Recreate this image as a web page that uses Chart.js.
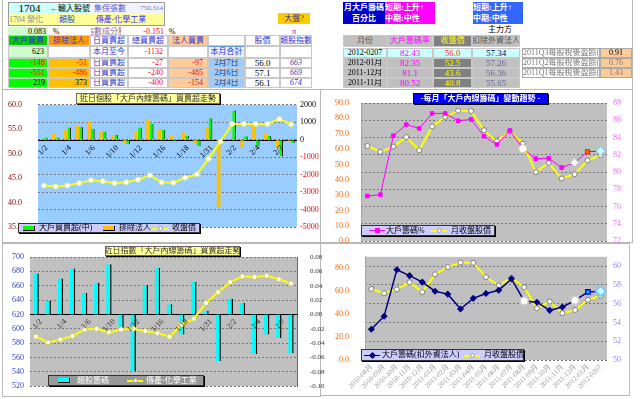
<!DOCTYPE html>
<html>
<head>
<meta charset="utf-8">
<script src="https://cdn.jsdelivr.net/npm/chart.js@4.4.1/dist/chart.umd.min.js"></script>
<style>
  html, body { margin: 0; padding: 0; background: #fff; }
  body { width: 640px; height: 399px; position: relative; overflow: hidden;
         font-family: 'Liberation Serif', 'Noto Sans CJK TC', serif; }
  .c { position: absolute; box-sizing: border-box; font-size: 8px; line-height: 1;
       display: flex; align-items: center; justify-content: center; white-space: pre;
       overflow: hidden; text-align: center; }
  .frame { position: absolute; box-sizing: border-box; border: 1px solid #b8b8b8; }
  .wrap { position: absolute; overflow: hidden; }
  canvas { position: absolute; left: 0; top: 0; }
  .lg { position: absolute; box-sizing: border-box; border: 1px solid #333; box-shadow: 1px 1px 0 #000; }
  .lg span { position: absolute; top: 0; font-size: 8px; white-space: nowrap; }
  .lg i { position: absolute; display: block; box-sizing: border-box; }
</style>
</head>
<body>
<div class="frame" style="left:2px;top:-2px;width:631px;height:92px;"></div>
<div class="frame" style="left:2px;top:89px;width:319px;height:154px;"></div>
<div class="frame" style="left:320px;top:89px;width:313px;height:154px;"></div>
<div class="frame" style="left:2px;top:243px;width:319px;height:154px;"></div>
<div class="frame" style="left:320px;top:243px;width:310px;height:153px;"></div>

<div class="wrap" style="left:0;top:92px;width:326px;height:148px;"><canvas id="c1" width="326" height="148"></canvas></div>
<div class="wrap" style="left:322px;top:92px;width:318px;height:151px;"><canvas id="c2" width="318" height="160"></canvas></div>
<div class="wrap" style="left:0;top:242px;width:326px;height:155px;"><canvas id="c3" width="326" height="155"></canvas></div>
<div class="wrap" style="left:322px;top:244px;width:318px;height:152px;"><canvas id="c4" width="318" height="152"></canvas></div>

<script>
// ---- daily data (Jan/Feb 2012) ----
const dayLabels = ['12/30', '1/2', '1/3', '1/4', '1/5', '1/6', '1/9', '1/10', '1/11', '1/12', '1/13',
  '1/16', '1/17', '1/18', '1/19', '1/31', '2/1', '2/2', '2/3', '2/4', '2/6', '2/7'];
const bigHolderDaily = [125, 125, 700, 750, 625, 480, 270, -250, 700, 910, 560, -100, 230, -360,
  1230, -30, 1680, 200, -375, 219, -950, -190];
const exInstDaily = [50, 340, 550, 785, 1050, 450, 250, -230, 480, 1180, 600, 250, 410, -230,
  700, -3900, 0, -430, 880, 373, -486, -51];
const stockClose = [43.5, 43.3, 43.5, 44.0, 44.6, 44.4, 44.0, 44.2, 44.7, 45.6, 44.2, 44.1, 45.1,
  45.8, 49.0, 52.5, 56.1, 56.1, 56.1, 56.1, 57.1, 56.0];
const sectorChips = [0.057, 0.019, 0.050, 0.064, 0.030, 0.044, 0.070, -0.019, -0.079, 0.041, 0.065,
  0.014, -0.028, 0.045, 0.005, -0.065, 0.022, 0.016, -0.055, -0.028, -0.033, -0.054];
const sectorIndex = [589, 581, 585, 590, 599, 600, 595, 599, 600, 597, 594, 589, 606, 614, 636,
  651, 665, 673, 672, 674, 669, 663];

// ---- monthly data ----
const months = ['2010-08月', '2010-09月', '2010-10月', '2010-11月', '2010-12月', '2011-01月',
  '2011-02月', '2011-03月', '2011-04月', '2011-05月', '2011-06月', '2011-07月', '2011-08月',
  '2011-09月', '2011-10月', '2011-11月', '2011-12月', '2012-01月', '2012-0207'];
const bigHolderPct = [77.24, 77.39, 84.21, 85.5, 85.05, 86.79, 86.79, 85.95, 86.1, 84.14, 83.19,
  84.82, 82.7, 81.56, 81.6, 80.52, 81.1, 82.35, 82.43];
const monthClose = [62.0, 58.2, 61.6, 67.8, 59.2, 74.7, 81.0, 85.0, 84.8, 72.3, 65.0, 71.6, 63.5,
  45.0, 51.0, 40.8, 43.6, 52.5, 56.0];
const bigHolderExForeign = [53.28, 54.67, 59.62, 58.99, 58.30, 57.33, 57.02, 55.43, 56.57, 57.09,
  57.44, 58.65, 56.29, 56.16, 55.29, 55.65, 56.36, 57.26, 57.34];

// ---- table values ----
const tblDates = ['2月7日', '2月6日', '2月4日'];
const tblBig = ['-148', '-551', '219'];
const tblExInst = ['-51', '-486', '373'];
const tblNet = ['-27', '-240', '-400'];
const tblInst = ['-97', '-485', '-154'];
const tblPrice = ['56.0', '57.1', '56.1'];
const tblSector = ['663', '669', '674'];
const mthRows = ['2012-0207', '2012-01月', '2011-12月', '2011-11月'];
const mthPct = ['82.43', '82.35', '81.1', '80.52'];
const mthClose = ['56.0', '52.5', '43.6', '40.8'];
const mthExForeign = ['57.34', '57.26', '56.36', '55.65'];
const epsLabels = ['2011Q3每股稅後盈餘(元)', '2011Q2每股稅後盈餘(元)', '2011Q1每股稅後盈餘(元)'];
const epsValues = ['0.91', '0.76', '1.43'];

const G = 'border:1px solid #c8c8c8;';
function cell(x, y, w, h, text, st) {
  const d = document.createElement('div');
  d.className = 'c';
  d.style.cssText = `left:${x}px;top:${y}px;width:${w}px;height:${h}px;` + (st || '');
  d.textContent = text;
  document.body.appendChild(d);
  return d;
}

// ---- top-left block ----
cell(8, 2, 157, 24, '', 'border:1px solid #999;');
cell(9, 3, 41, 11, '1704', 'background:#ccffff;font-size:11px;');
cell(50, 3, 40, 11, '←輸入股號', 'background:#ccffff;');
cell(90, 3, 74, 11, '', 'background:#f2f2ff;');
cell(92, 3, 36, 11, '集保張數', 'color:#5a5acc;');
cell(130, 3, 33, 11, '750,314', 'font-size:7px;color:#7777aa;justify-content:flex-end;');
cell(9, 14, 155, 11, '', 'background:#ffff99;');
cell(9, 14, 38, 11, '1704 榮化', 'color:#888;justify-content:flex-start;');
cell(55, 14, 24, 11, '類股', 'color:#3333ff;');
cell(91, 14, 60, 11, '傳產-化學工業', 'color:#3333ff;');
cell(278, 13, 32, 11, '大盤?', 'background:#ffcc00;color:#333399;');

cell(8, 27, 40, 9, '0.083', 'background:#ccffcc;justify-content:flex-end;padding-right:2px;');
cell(50, 27, 12, 9, '%');
cell(91, 27, 30, 9, '指數成分股', 'color:#886699;');
cell(140, 27, 24, 9, '-0.151', 'color:#ff0000;justify-content:flex-end;');
cell(167, 27, 10, 9, '%');
cell(290, 27, 8, 9, 'π', 'color:#333399;');

const colX = [8, 48, 90, 128, 168, 208, 245, 280, 312];
const heads = ['大戶買賣', '排除法人', '日買賣超', '總買賣超', '法人買賣', '', '股價', '類股指數'];
const headBg = ['#00cc00', '#ff9900', '#fff', '#fff', '#ffcc99', '#fff', '#fff', '#fff'];
heads.forEach((t, i) => cell(colX[i], 35, colX[i + 1] - colX[i], 11, t,
  G + `background:${headBg[i]};color:#3333cc;`));
cell(8, 46, 40, 12, '623', G + 'background:#ccffcc;justify-content:flex-end;padding-right:3px;');
cell(48, 46, 42, 12, '', G);
cell(90, 46, 38, 12, '本月至今', G + 'color:#3333cc;');
cell(128, 46, 40, 12, '-1132', G + 'color:#ff0000;justify-content:flex-end;padding-right:4px;');
cell(168, 46, 40, 12, '', G);
cell(208, 46, 37, 12, '本月合計', G + 'color:#3333cc;background:#e6f0ff;border-top:1px solid #6699cc;');
cell(245, 46, 35, 12, '', G);
cell(280, 46, 32, 12, '', G);
tblDates.forEach((d, r) => {
  const y = 58 + r * 10;
  const neg = (v) => (v.startsWith('-') ? '#ff0000' : '#000');
  cell(8, y, 40, 10, tblBig[r], G + `background:#00ff00;color:${neg(tblBig[r])};justify-content:flex-end;padding-right:2px;`);
  cell(48, y, 42, 10, tblExInst[r], G + `background:#ffc000;color:${neg(tblExInst[r])};justify-content:flex-end;padding-right:2px;`);
  cell(90, y, 38, 10, '日買賣超', G + 'color:#3333cc;');
  cell(128, y, 40, 10, tblNet[r], G + 'color:#ff0000;justify-content:flex-end;padding-right:4px;');
  cell(168, y, 40, 10, tblInst[r], G + 'background:#ffcc99;color:#ff0000;justify-content:flex-end;padding-right:4px;');
  cell(208, y, 37, 10, d, G + 'background:#99ccff;color:#333366;');
  cell(245, y, 35, 10, tblPrice[r], G + 'font-size:9px;');
  cell(280, y, 32, 10, tblSector[r], G + 'color:#3333cc;font-style:italic;');
});

// ---- top-right block ----
cell(343, 2, 42, 22, '月大戶籌碼\n百分比', 'background:#0000cc;color:#fff;font-weight:bold;line-height:11px;');
cell(385, 2, 50, 22, '短期:上升↑\n中期:中性', 'background:#ff00ff;color:#fff;font-weight:bold;line-height:11px;text-align:left;justify-content:flex-start;');
cell(473, 2, 50, 22, '短期:上升↑\n中期:中性', 'background:#3366ff;color:#fff;font-weight:bold;line-height:11px;text-align:left;justify-content:flex-start;');
cell(485, 25, 30, 9, '主力方');
cell(343, 35, 44, 12, '月份', G + 'background:#c0c0c0;color:#555;');
cell(387, 35, 46, 12, '大戶籌碼率', G + 'background:#c0c0c0;color:#ff00ff;');
cell(433, 35, 39, 12, '收盤價', G + 'background:#808080;color:#ffff00;');
cell(472, 35, 48, 12, '扣除外資法人', G + 'background:#c0c0c0;color:#555;');
mthRows.forEach((m, r) => {
  const y = 48 + r * 10;
  const first = r === 0;
  const bg = first ? '#ccffff' : '#c0c0c0';
  cell(343, y, 44, 10, m, G + `background:${bg};color:#000;`);
  cell(387, y, 46, 10, mthPct[r], G + `background:${bg};color:#ff00ff;font-size:9px;`);
  cell(433, y, 39, 10, mthClose[r], G + `background:${first ? '#ccffff' : '#808080'};color:${first ? '#ff3300' : '#ffff00'};font-size:9px;`);
  cell(472, y, 48, 10, mthExForeign[r], G + `background:${bg};color:${first ? '#000080' : '#666699'};font-size:9px;`);
});
epsLabels.forEach((t, r) => {
  const y = 48 + r * 10;
  cell(522, y, 78, 10, t, 'border:1px solid #aaa;color:#777;justify-content:flex-start;');
  cell(600, y, 32, 10, epsValues[r], `border:1px solid #aaa;background:#ffcc99;color:${r === 0 ? '#000' : '#777'};`);
});

// ---- chart titles & legends ----
cell(76, 93, 144, 11, '近日個股「大戶內線籌碼」買賣超走勢', 'background:#ffff99;border:1px solid #666;box-shadow:1px 1px 0 #000;color:#333;');
cell(413, 93, 135, 11, '-每月「大戶內線籌碼」變動趨勢 -', 'background:#0000ff;border:1px solid #000;box-shadow:1px 1px 0 #000;color:#fff;font-weight:bold;');
cell(105, 246, 135, 10, '近日指數「大戶內線籌碼」買賣超走勢', 'background:#ffff99;border:1px solid #666;box-shadow:1px 1px 0 #000;color:#333;');

function legend(x, y, w, h, bg, color, items) {
  const d = document.createElement('div');
  d.className = 'lg';
  d.style.cssText = `left:${x}px;top:${y}px;width:${w}px;height:${h}px;background:${bg};color:${color};`;
  items.forEach((it) => {
    if (it.box) {
      const b = document.createElement('i');
      b.style.cssText = `left:${it.at}px;top:${Math.floor(h / 2) - 3}px;width:12px;height:5px;background:${it.box};border-right:1px solid #000;border-bottom:1px solid #000;`;
      d.appendChild(b);
    } else {
      const l = document.createElement('i');
      l.style.cssText = `left:${it.at}px;top:${Math.floor(h / 2) - 1}px;width:16px;height:${it.lw}px;background:${it.line};`;
      d.appendChild(l);
      const m = document.createElement('i');
      m.style.cssText = `left:${it.at + 6}px;top:${Math.floor(h / 2) - 3}px;width:5px;height:5px;background:${it.mark};` +
        (it.round ? 'border-radius:50%;border:1px solid #999;' : '') + (it.rot ? 'transform:rotate(45deg);' : '');
      d.appendChild(m);
    }
    const s = document.createElement('span');
    s.style.left = it.tx + 'px';
    s.style.lineHeight = (h - 2) + 'px';
    s.textContent = it.text;
    d.appendChild(s);
  });
  document.body.appendChild(d);
}
legend(18, 223, 182, 10, '#ccccff', '#000', [
  { box: '#00ff00', at: 4, text: '大戶買賣超(中)', tx: 20 },
  { box: '#ffc000', at: 84, text: '排除法人', tx: 100 },
  { line: '#ffff00', lw: 2, mark: '#fff', round: true, at: 133, text: '收盤價', tx: 153 },
]);
legend(361, 225, 134, 11, '#ccccff', '#000', [
  { line: '#ff00ff', lw: 1, mark: '#ff00ff', at: 7, text: '大戶籌碼%', tx: 24 },
  { line: '#ffff00', lw: 2, mark: '#fff', round: true, at: 69, text: '月收盤股價', tx: 89 },
]);
legend(48, 375, 156, 11, '#999999', '#fff', [
  { box: '#00ffff', at: 9, text: '類股籌碼', tx: 28 },
  { line: '#ffff00', lw: 2, mark: '#fff', round: true, at: 78, text: '傳產-化學工業', tx: 97 },
]);
legend(361, 349, 163, 12, '#ccccff', '#000', [
  { line: '#000080', lw: 1, mark: '#000080', rot: true, at: 2, text: '大戶籌碼(扣外資法人)', tx: 20 },
  { line: '#ffff00', lw: 2, mark: '#fff', round: true, at: 102, text: '月收盤股價', tx: 122 },
]);

// ---- Chart.js ----
Chart.defaults.font.family = "'Liberation Serif','Noto Sans CJK TC',serif";
Chart.defaults.font.size = 8;
Chart.defaults.color = '#000';
Chart.defaults.animation = false;
Chart.defaults.responsive = false;
Chart.defaults.plugins.legend.display = false;
Chart.defaults.plugins.tooltip.enabled = false;

const plotBg = {
  id: 'plotBg',
  beforeDraw(chart, args, o) {
    const { ctx, chartArea: a } = chart;
    ctx.save();
    ctx.fillStyle = o.color;
    ctx.fillRect(a.left, a.top, a.right - a.left, a.bottom - a.top);
    ctx.restore();
  },
};

// category axis that crosses at value 0 of the bar scale, labels every other day
const zeroAxis = {
  id: 'zeroAxis',
  beforeDatasetsDraw(chart, args, o) {
    if (!o.scale) { return; }
    const { ctx, chartArea: a } = chart;
    const y = Math.round(chart.scales[o.scale].getPixelForValue(0)) + 0.5;
    ctx.save();
    ctx.strokeStyle = '#000';
    ctx.lineWidth = 1;
    ctx.beginPath();
    ctx.moveTo(a.left, y);
    ctx.lineTo(a.right, y);
    ctx.stroke();
    ctx.restore();
  },
  afterDatasetsDraw(chart, args, o) {
    if (!o.scale) { return; }
    const { ctx } = chart;
    const y = chart.scales[o.scale].getPixelForValue(0);
    const xs = chart.scales.x;
    ctx.save();
    ctx.font = `8px ${Chart.defaults.font.family}`;
    ctx.fillStyle = o.color;
    ctx.textAlign = 'right';
    ctx.textBaseline = 'middle';
    chart.data.labels.forEach((lb, i) => {
      if (i % 2 === 0) { return; }
      ctx.save();
      ctx.translate(xs.getPixelForValue(i) + o.dx, y + o.dy);
      ctx.rotate(-Math.PI / 4);
      ctx.fillText(lb, 0, 0);
      ctx.restore();
    });
    ctx.restore();
  },
};
Chart.register(plotBg, zeroAxis);

const fixW = (w) => (s) => { s.width = w; };
const dash = { display: false, dash: [2, 2] };
const perPoint = (n, def, over) => Array.from({ length: n }, (_, i) => (i in over ? over[i] : def));
const yellowLine = {
  borderColor: '#ffff00', borderWidth: 2, pointRadius: 2.5, pointBackgroundColor: '#fff',
  pointBorderColor: '#666', pointBorderWidth: 0.8, tension: 0,
};

// 1. daily stock chips
new Chart(document.getElementById('c1'), {
  type: 'bar',
  data: {
    labels: dayLabels,
    datasets: [
      { type: 'line', label: '收盤價', data: stockClose, yAxisID: 'y', order: 0,
        ...yellowLine, pointBorderColor: '#eeee66' },
      { label: '排除法人', data: exInstDaily, yAxisID: 'y1', order: 1,
        backgroundColor: '#ffc000', categoryPercentage: 0.62, barPercentage: 1 },
      { label: '大戶買賣超(中)', data: bigHolderDaily, yAxisID: 'y1', order: 1,
        backgroundColor: '#00ff00', borderColor: '#000', borderWidth: { right: 1, bottom: 0, top: 0, left: 0 },
        borderSkipped: false, categoryPercentage: 0.62, barPercentage: 1 },
    ],
  },
  options: {
    layout: { padding: { top: 12, bottom: 4, left: 0, right: 0 } },
    plugins: {
      plotBg: { color: '#99ccff' },
      zeroAxis: { scale: 'y1', color: '#000', dx: -9, dy: 7 },
    },
    scales: {
      x: { display: false },
      y: {
        position: 'left', min: 35, max: 60,
        ticks: { stepSize: 5, color: '#800000', padding: 8, callback: (v) => v.toFixed(1) },
        grid: { display: false }, border: { display: false }, afterFit: fixW(38),
      },
      y1: {
        position: 'right', min: -5000, max: 2000,
        ticks: { stepSize: 1000, padding: 3, callback: (v) => String(v),
          color: (c) => (c.tick.value < 0 ? '#ff0000' : '#000') },
        grid: { color: '#777', drawTicks: false }, border: dash, afterFit: fixW(29),
      },
    },
  },
});

// 2. monthly big-holder percentage
new Chart(document.getElementById('c2'), {
  type: 'line',
  data: {
    labels: months,
    datasets: [
      { label: '大戶籌碼%', data: bigHolderPct, yAxisID: 'y1', borderColor: '#ff00ff', borderWidth: 1,
        pointStyle: perPoint(19, 'rect', { 12: 'circle', 16: 'rectRot', 18: 'rectRot' }),
        pointRadius: perPoint(19, 2.5, { 12: 4, 16: 4, 17: 3, 18: 4.5 }),
        pointBackgroundColor: perPoint(19, '#ff00ff', { 12: '#fff', 16: '#fff', 17: '#ff6600', 18: '#ccffff' }),
        pointBorderColor: perPoint(19, '#ff00ff', { 12: '#ccc', 16: '#ccc', 17: '#cc3300', 18: '#66ccff' }),
        segment: { borderColor: (c) => (c.p1DataIndex === 18 ? '#ff0000' : undefined) }, tension: 0 },
      { label: '月收盤股價', data: monthClose, yAxisID: 'y', ...yellowLine },
    ],
  },
  options: {
    layout: { padding: { top: 11, bottom: 9, left: 0, right: 0 } },
    plugins: { plotBg: { color: '#c0c0c0' } },
    scales: {
      x: { display: false, offset: true },
      y: {
        position: 'left', min: 0, max: 90,
        ticks: { stepSize: 10, color: '#ff6600', padding: 4, callback: (v) => v.toFixed(1) },
        grid: { display: false }, border: { color: '#ff9900' }, afterFit: fixW(39),
      },
      y1: {
        position: 'right', min: 72, max: 88,
        ticks: { stepSize: 2, color: '#ff66ff', padding: 6 },
        grid: { color: '#777', drawTicks: false }, border: dash, afterFit: fixW(33),
      },
    },
  },
});

// 3. daily sector chips
new Chart(document.getElementById('c3'), {
  type: 'bar',
  data: {
    labels: dayLabels,
    datasets: [
      { type: 'line', label: '傳產-化學工業', data: sectorIndex, yAxisID: 'y', order: 0,
        ...yellowLine, pointBorderColor: '#cccc33' },
      { label: '類股籌碼', data: sectorChips, yAxisID: 'y1', order: 1,
        backgroundColor: '#00ffff', borderColor: '#000', borderWidth: { right: 1.5, bottom: 0, top: 0, left: 0 },
        borderSkipped: false, categoryPercentage: 1, barPercentage: 0.45 },
    ],
  },
  options: {
    layout: { padding: { top: 15, bottom: 10, left: 0, right: 0 } },
    plugins: {
      plotBg: { color: '#c0c0c0' },
      zeroAxis: { scale: 'y1', color: '#333', dx: -7, dy: 6 },
    },
    scales: {
      x: { display: false },
      y: {
        position: 'left', min: 520, max: 700,
        ticks: { stepSize: 20, color: '#3344cc', padding: 6 },
        grid: { color: '#777', drawTicks: false }, border: dash, afterFit: fixW(30),
      },
      y1: {
        position: 'right', min: -0.1, max: 0.08,
        ticks: { stepSize: 0.02, color: '#333', padding: 5, font: { size: 7 }, callback: (v) => v.toFixed(2) },
        grid: { display: false }, border: { color: '#666' }, afterFit: fixW(29),
      },
    },
  },
});

// 4. monthly big-holder excluding foreign/institutional
new Chart(document.getElementById('c4'), {
  type: 'line',
  data: {
    labels: months,
    datasets: [
      { label: '大戶籌碼(扣外資法人)', data: bigHolderExForeign, yAxisID: 'y1', borderColor: '#000080',
        borderWidth: 1.5,
        pointStyle: perPoint(19, 'rectRot', { 12: 'circle', 16: 'circle', 17: 'rect' }),
        pointRadius: perPoint(19, 2.5, { 12: 4, 16: 4, 17: 3, 18: 5 }),
        pointBackgroundColor: perPoint(19, '#000080', { 12: '#fff', 16: '#fff', 17: '#00cccc', 18: '#ccffff' }),
        pointBorderColor: perPoint(19, '#000080', { 12: '#ccc', 16: '#ccc', 17: '#0000ff', 18: '#66ccff' }),
        segment: { borderColor: (c) => (c.p1DataIndex === 18 ? '#0000ff' : undefined) }, tension: 0 },
      { label: '月收盤股價', data: monthClose, yAxisID: 'y', ...yellowLine },
    ],
  },
  options: {
    layout: { padding: { top: 10, bottom: 0, left: 0, right: 0 } },
    plugins: { plotBg: { color: '#c0c0c0' } },
    scales: {
      x: {
        offset: true, grid: { display: false, drawTicks: false }, border: { display: false },
        ticks: { autoSkip: false, minRotation: 45, maxRotation: 45, color: '#999', padding: 3, font: { size: 7 } },
        afterFit: (s) => { s.height = 36; },
      },
      y: {
        position: 'left', min: 0, max: 90,
        ticks: { stepSize: 10, color: '#ff6600', padding: 8, callback: (v) => v.toFixed(1) },
        grid: { display: false }, border: { color: '#ff9900' }, afterFit: fixW(43),
      },
      y1: {
        position: 'right', min: 50, max: 61,
        ticks: { stepSize: 1, color: '#8888ff', padding: 6 },
        grid: { color: '#777', drawTicks: false }, border: dash, afterFit: fixW(33),
      },
    },
  },
});
</script>
</body>
</html>
